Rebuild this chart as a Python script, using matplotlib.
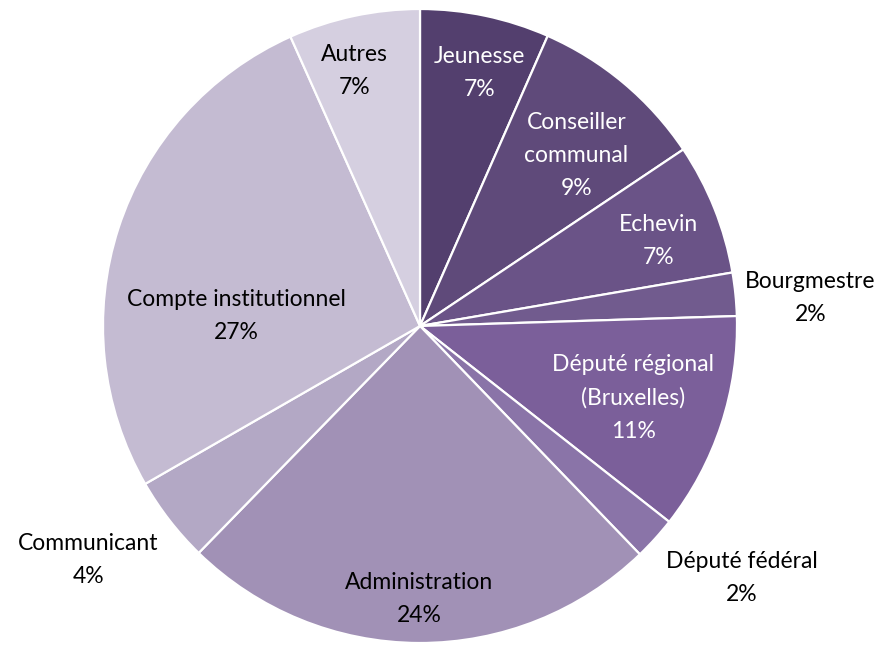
import numpy as np
import matplotlib
matplotlib.use("Agg")
import matplotlib.pyplot as plt

categories = ["Jeunesse", "Conseiller\ncommunal", "Echevin", "Bourgmestre",
              "Député régional\n(Bruxelles)", "Député fédéral", "Administration",
              "Communicant", "Compte institutionnel", "Autres"]
values = [6.6, 9.0, 6.7, 2.2, 11.1, 2.2, 24.5, 4.4, 26.6, 6.7]
pct_labels = ["7%", "9%", "7%", "2%", "11%", "2%", "24%", "4%", "27%", "7%"]

colors = ["#533F6E", "#5F4A7A", "#6A5387", "#715B8E", "#7B5F9A",
          "#8A74A8", "#A191B6", "#B3A8C5", "#C4BBD2", "#D5CFE0"]
text_colors = ["white", "white", "white", "black", "white",
               "black", "black", "black", "black", "black"]
# label layout: radius factor and angle shift (deg, clockwise from top)
label_r = [0.82, 0.73, 0.80, 1.235, 0.71, 1.29, 0.86, 1.28, 0.58, 0.83]
label_da = [1.4, 2.6, 2.1, 1.6, 0.4, -4.1, 0.0, 2.6, -15.0, -2.4]

plt.rcParams['font.family'] = ['Lato', 'DejaVu Sans']

W, H = 886, 646
R = 317.0
cx, cy = 420.0, 326.0
fig = plt.figure(figsize=(W / 100, H / 100), dpi=100)
ax = fig.add_axes([0, 0, 1, 1])

wedges, _ = ax.pie(values, colors=colors, startangle=90, counterclock=False,
                   radius=1.0, center=(0, 0),
                   wedgeprops=dict(edgecolor='white', linewidth=1.6))

ax.set_aspect('equal')
ax.set_xlim(-cx / R, (W - cx) / R)
ax.set_ylim(-(H - cy) / R, cy / R)
ax.axis('off')

total = sum(values)
cum = 0.0
for i, v in enumerate(values):
    mid = (cum + v / 2) / total * 360.0 + label_da[i]
    cum += v
    a = np.deg2rad(mid)
    x = label_r[i] * np.sin(a)
    y = label_r[i] * np.cos(a)
    ax.text(x, y, categories[i] + "\n" + pct_labels[i], ha='center', va='center',
            color=text_colors[i], fontsize=16.5, linespacing=1.7)

fig.savefig("out.png", dpi=100)
